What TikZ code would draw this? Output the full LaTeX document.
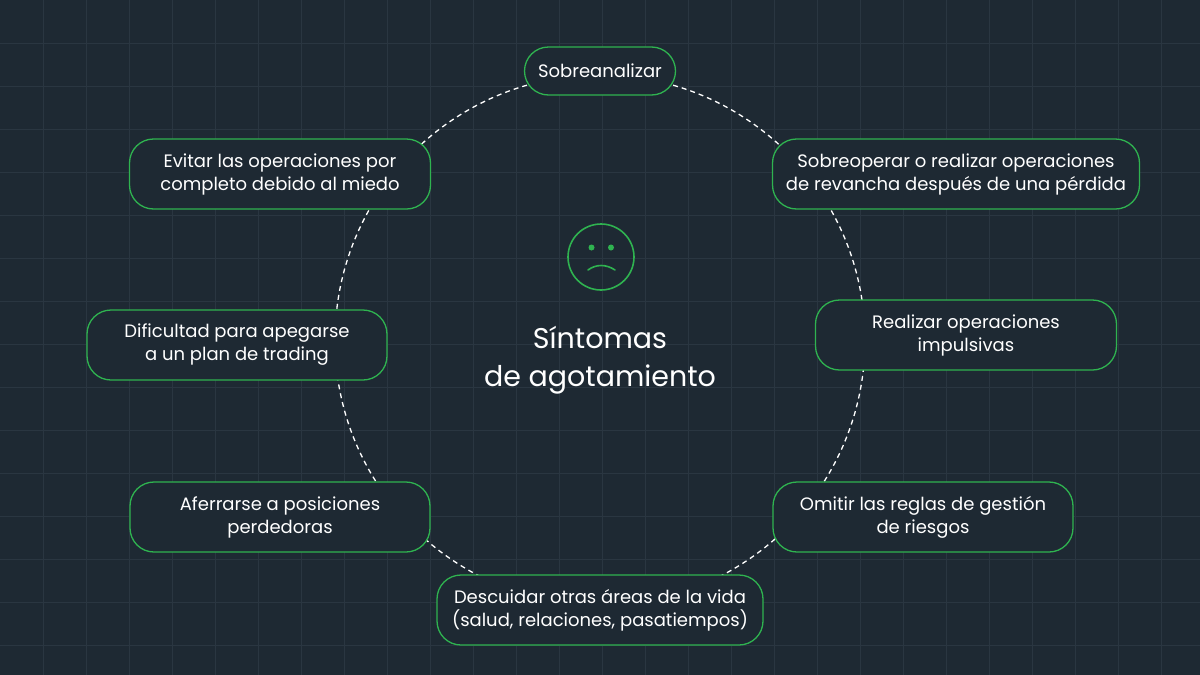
\documentclass[tikz,border=0pt]{standalone}
\usepackage{fontspec}
\setmainfont{Poppins}
\definecolor{bg}{HTML}{1E2933}
\definecolor{gridc}{HTML}{2A3641}
\definecolor{grn}{HTML}{2FB350}
\begin{document}
\begin{tikzpicture}[x=1pt,y=-1pt,
  box/.style={draw=grn,line width=1.3pt,fill=bg,rounded corners=24pt,text=white,
    font=\fontsize{18}{23}\selectfont,align=center,inner sep=0pt}]
\fill[bg] (0,0) rectangle (1200,675);
\useasboundingbox (0,0) rectangle (1200,675);
\foreach \i in {1,...,27} \draw[gridc,line width=1pt] (\i*43,0) -- (\i*43,675);
\foreach \j in {1,...,15} \draw[gridc,line width=1pt] (0,\j*43) -- (1200,\j*43);
\draw[white,line width=1.3pt,dash pattern=on 5pt off 4pt] (600,340) circle (265);
\node[box,minimum width=151,minimum height=48] (a) at (600,71) {Sobreanalizar};
\node[box,minimum width=367,minimum height=70] (b) at (956,174) {Sobreoperar o realizar operaciones\\de revancha después de una pérdida};
\node[box,minimum width=301,minimum height=70] (c) at (966,335) {Realizar operaciones\\impulsivas};
\node[box,minimum width=300,minimum height=70] (d) at (923,517) {Omitir las reglas de gestión\\de riesgos};
\node[box,minimum width=326,minimum height=70] (e) at (600,610) {Descuidar otras áreas de la vida\\(salud, relaciones, pasatiempos)};
\node[box,minimum width=300,minimum height=70] (f) at (280,517) {Aferrarse a posiciones\\perdedoras};
\node[box,minimum width=300,minimum height=70] (g) at (237,345) {Dificultad para apegarse\\a un plan de trading};
\node[box,minimum width=301,minimum height=70] (h) at (280,174) {Evitar las operaciones por\\completo debido al miedo};
\node[text=white,align=center,font=\fontsize{28.5}{38}\selectfont] (t) at (600,360) {Síntomas\\de agotamiento};
\draw[grn,line width=1.6pt] (601,257) circle (33);
\fill[grn] (591.5,247.5) circle (3);
\fill[grn] (611,247.5) circle (3);
\draw[grn,line width=1.6pt,line cap=round] (588,270) .. controls (596,264) and (606,264) .. (615,270);
\end{tikzpicture}
\end{document}
